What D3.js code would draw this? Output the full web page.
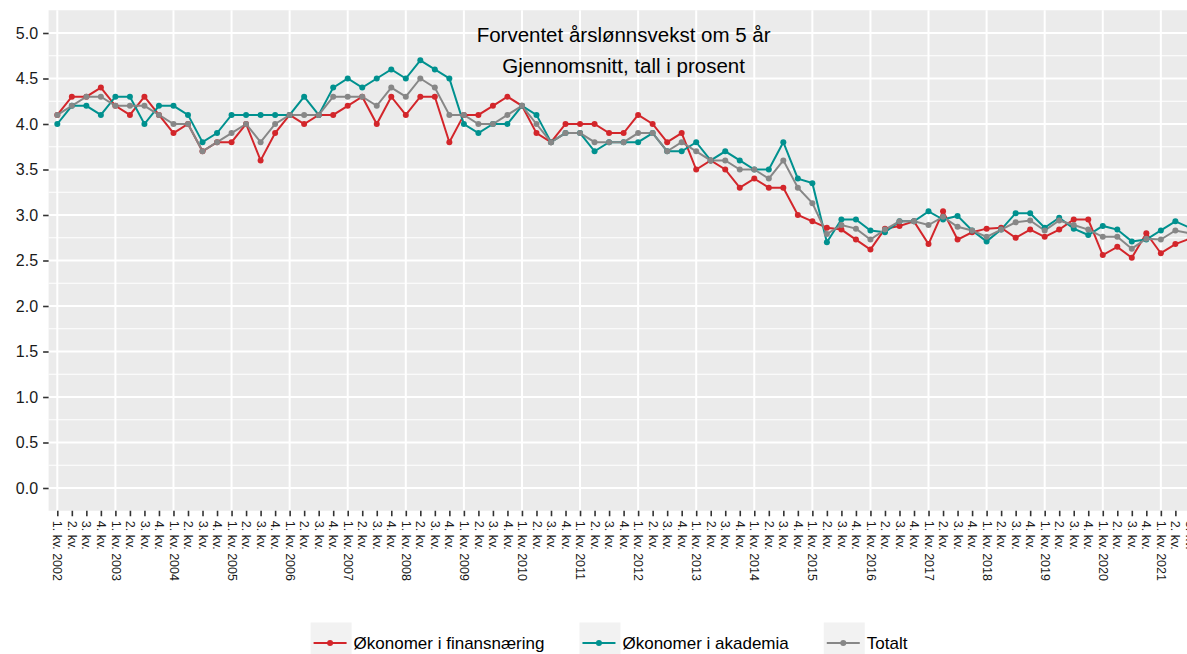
<!DOCTYPE html>
<html>
<head>
<meta charset="utf-8">
<script src="https://cdn.jsdelivr.net/npm/d3@7"></script>
<style>
  body { margin: 0; background: #fff; }
  text { font-family: "Liberation Sans", Arial, sans-serif; }
</style>
</head>
<body>
<script>
// Kvartaler og årstall
var years = [2002, 2003, 2004, 2005, 2006, 2007, 2008, 2009, 2010, 2011,
  2012, 2013, 2014, 2015, 2016, 2017, 2018, 2019, 2020, 2021];
var quarterLabels = ["1. kv.", "2. kv.", "3. kv.", "4. kv."];
var nPeriods = 79; // 1. kv. 2002 - 3. kv. 2021

// Serier (prosent)
var finans = [
  4.1, 4.3, 4.3, 4.4, 4.2, 4.1, 4.3, 4.1, 3.9, 4.0, 3.7, 3.8, 3.8, 4.0, 3.6, 3.9,
  4.1, 4.0, 4.1, 4.1, 4.2, 4.3, 4.0, 4.3, 4.1, 4.3, 4.3, 3.8, 4.1, 4.1, 4.2, 4.3,
  4.2, 3.9, 3.8, 4.0, 4.0, 4.0, 3.9, 3.9, 4.1, 4.0, 3.8, 3.9, 3.5, 3.6, 3.5, 3.3,
  3.4, 3.3, 3.3, 3.0, 2.93, 2.86, 2.84, 2.73, 2.62, 2.85, 2.88, 2.93, 2.68, 3.04,
  2.73, 2.81, 2.85, 2.86, 2.75, 2.84, 2.76, 2.84, 2.95, 2.95, 2.56, 2.65, 2.53,
  2.80, 2.58, 2.68, 2.74
];
var akademia = [
  4.0, 4.2, 4.2, 4.1, 4.3, 4.3, 4.0, 4.2, 4.2, 4.1, 3.8, 3.9, 4.1, 4.1, 4.1, 4.1,
  4.1, 4.3, 4.1, 4.4, 4.5, 4.4, 4.5, 4.6, 4.5, 4.7, 4.6, 4.5, 4.0, 3.9, 4.0, 4.0,
  4.2, 4.1, 3.8, 3.9, 3.9, 3.7, 3.8, 3.8, 3.8, 3.9, 3.7, 3.7, 3.8, 3.6, 3.7, 3.6,
  3.5, 3.5, 3.8, 3.4, 3.35, 2.70, 2.95, 2.95, 2.83, 2.81, 2.93, 2.93, 3.04, 2.95,
  2.99, 2.83, 2.71, 2.84, 3.02, 3.02, 2.86, 2.97, 2.85, 2.78, 2.88, 2.84, 2.71,
  2.73, 2.83, 2.93, 2.86
];
var totalt = [
  4.1, 4.2, 4.3, 4.3, 4.2, 4.2, 4.2, 4.1, 4.0, 4.0, 3.7, 3.8, 3.9, 4.0, 3.8, 4.0,
  4.1, 4.1, 4.1, 4.3, 4.3, 4.3, 4.2, 4.4, 4.3, 4.5, 4.4, 4.1, 4.1, 4.0, 4.0, 4.1,
  4.2, 4.0, 3.8, 3.9, 3.9, 3.8, 3.8, 3.8, 3.9, 3.9, 3.7, 3.8, 3.7, 3.6, 3.6, 3.5,
  3.5, 3.4, 3.6, 3.3, 3.13, 2.79, 2.89, 2.85, 2.73, 2.84, 2.93, 2.93, 2.89, 2.98,
  2.87, 2.83, 2.76, 2.84, 2.92, 2.94, 2.83, 2.94, 2.89, 2.84, 2.76, 2.76, 2.63,
  2.74, 2.73, 2.83, 2.80
];
var seriesNames = ["Økonomer i finansnæring", "Økonomer i akademia", "Totalt"];
var seriesColors = ["#d3262b", "#00918f", "#878787"];
var yTicks = [0, 0.5, 1, 1.5, 2, 2.5, 3, 3.5, 4, 4.5, 5];
var titleLines = ["Forventet årslønnsvekst om 5 år", "Gjennomsnitt, tall i prosent"];

// Perioder
var periods = [];
for (var i = 0; i < nPeriods; i++) {
  var yr = years[Math.floor(i / 4)], q = i % 4;
  periods.push({ id: i, label: q === 0 ? quarterLabels[q] + " " + yr : quarterLabels[q], q: q });
}

var W = 1187, H = 654;
var panel = { left: 48.6, right: 1198.6, top: 10.25, bottom: 510.75 };

var svg = d3.select("body").append("svg").attr("width", W).attr("height", H);

var x = d3.scalePoint()
  .domain(periods.map(function (d) { return d.id; }))
  .range([panel.left, panel.right])
  .padding(0.6);

var y = d3.scaleLinear()
  .domain([-0.25, 5.25])
  .range([panel.bottom, panel.top]);

// panel
svg.append("rect")
  .attr("x", panel.left).attr("y", panel.top)
  .attr("width", panel.right - panel.left).attr("height", panel.bottom - panel.top)
  .attr("fill", "#ebebeb");

svg.append("clipPath").attr("id", "clip")
  .append("rect")
  .attr("x", panel.left).attr("y", panel.top)
  .attr("width", panel.right - panel.left).attr("height", panel.bottom - panel.top);

var grid = svg.append("g");
// minor horizontal
grid.selectAll("line.minor")
  .data(yTicks.slice(1).map(function (d) { return d - 0.25; }))
  .join("line")
  .attr("x1", panel.left).attr("x2", panel.right)
  .attr("y1", function (d) { return y(d); }).attr("y2", function (d) { return y(d); })
  .attr("stroke", "#fff").attr("stroke-width", 1);
// major horizontal
grid.selectAll("line.major")
  .data(yTicks)
  .join("line")
  .attr("x1", panel.left).attr("x2", panel.right)
  .attr("y1", function (d) { return y(d); }).attr("y2", function (d) { return y(d); })
  .attr("stroke", "#fff").attr("stroke-width", 2);
// vertical (years)
grid.selectAll("line.v")
  .data(periods.filter(function (d) { return d.q === 0; }))
  .join("line")
  .attr("x1", function (d) { return x(d.id); }).attr("x2", function (d) { return x(d.id); })
  .attr("y1", panel.top).attr("y2", panel.bottom)
  .attr("stroke", "#fff").attr("stroke-width", 2);

// title inside panel
var cx = (panel.left + panel.right) / 2;
svg.selectAll("text.title")
  .data(titleLines)
  .join("text")
  .attr("x", cx)
  .attr("y", function (d, i) { return 42 + i * 31; })
  .attr("text-anchor", "middle")
  .attr("font-size", "20.5px")
  .attr("fill", "#000")
  .text(function (d) { return d; });

// y axis
var yAxis = svg.append("g")
  .attr("transform", "translate(" + panel.left + ",0)")
  .call(d3.axisLeft(y).tickValues(yTicks).tickFormat(d3.format(".1f")).tickSize(5.5).tickPadding(5));
yAxis.select(".domain").remove();
yAxis.selectAll("line").attr("stroke", "#333").attr("stroke-width", 1.6);
yAxis.selectAll("text").attr("font-size", "16px").attr("fill", "#1a1a1a")
  .attr("font-family", "Liberation Sans, Arial, sans-serif");

// x axis
var xAxis = svg.append("g")
  .attr("transform", "translate(0," + panel.bottom + ")")
  .call(d3.axisBottom(x).tickSize(5.5).tickFormat(function (d) { return periods[d].label; }));
xAxis.select(".domain").remove();
xAxis.selectAll("line").attr("stroke", "#333").attr("stroke-width", 1.6);
xAxis.selectAll("text")
  .attr("font-size", "12.5px").attr("fill", "#1a1a1a")
  .attr("font-family", "Liberation Sans, Arial, sans-serif")
  .attr("text-anchor", "start")
  .attr("transform", "rotate(90)")
  .attr("x", 10).attr("y", 0).attr("dy", "0.35em");

// series
var allSeries = [finans, akademia, totalt];
var plot = svg.append("g").attr("clip-path", "url(#clip)");
var line = d3.line()
  .x(function (d, i) { return x(i); })
  .y(function (d) { return y(d); });

allSeries.forEach(function (s, k) {
  plot.append("path")
    .datum(s)
    .attr("d", line)
    .attr("fill", "none")
    .attr("stroke", seriesColors[k])
    .attr("stroke-width", 2);
});
allSeries.forEach(function (s, k) {
  plot.selectAll("circle.s" + k)
    .data(s)
    .join("circle")
    .attr("cx", function (d, i) { return x(i); })
    .attr("cy", function (d) { return y(d); })
    .attr("r", 3)
    .attr("fill", seriesColors[k]);
});

// legend
var legend = svg.append("g");
var ly = 643, keyW = 41, gap = 35, xPos = 0;
var items = legend.selectAll("g.item").data(seriesNames).join("g");
items.append("rect")
  .attr("x", 0).attr("y", ly - keyW / 2)
  .attr("width", keyW).attr("height", keyW)
  .attr("fill", "#f2f2f2");
items.append("line")
  .attr("x1", 3).attr("x2", keyW - 5)
  .attr("y1", ly).attr("y2", ly)
  .attr("stroke", function (d, i) { return seriesColors[i]; })
  .attr("stroke-width", 2);
items.append("circle")
  .attr("cx", keyW / 2 - 1).attr("cy", ly).attr("r", 3)
  .attr("fill", function (d, i) { return seriesColors[i]; });
items.append("text")
  .attr("x", keyW + 2).attr("y", ly).attr("dy", "0.35em")
  .attr("font-size", "17px").attr("fill", "#000")
  .text(function (d) { return d; });
items.each(function () {
  var g = d3.select(this);
  g.attr("transform", "translate(" + xPos + ",0)");
  xPos += keyW + 2 + g.select("text").node().getComputedTextLength() + gap;
});
var totalW = xPos - gap;
legend.attr("transform", "translate(" + (609 - totalW / 2) + ",0)");
</script>
</body>
</html>
